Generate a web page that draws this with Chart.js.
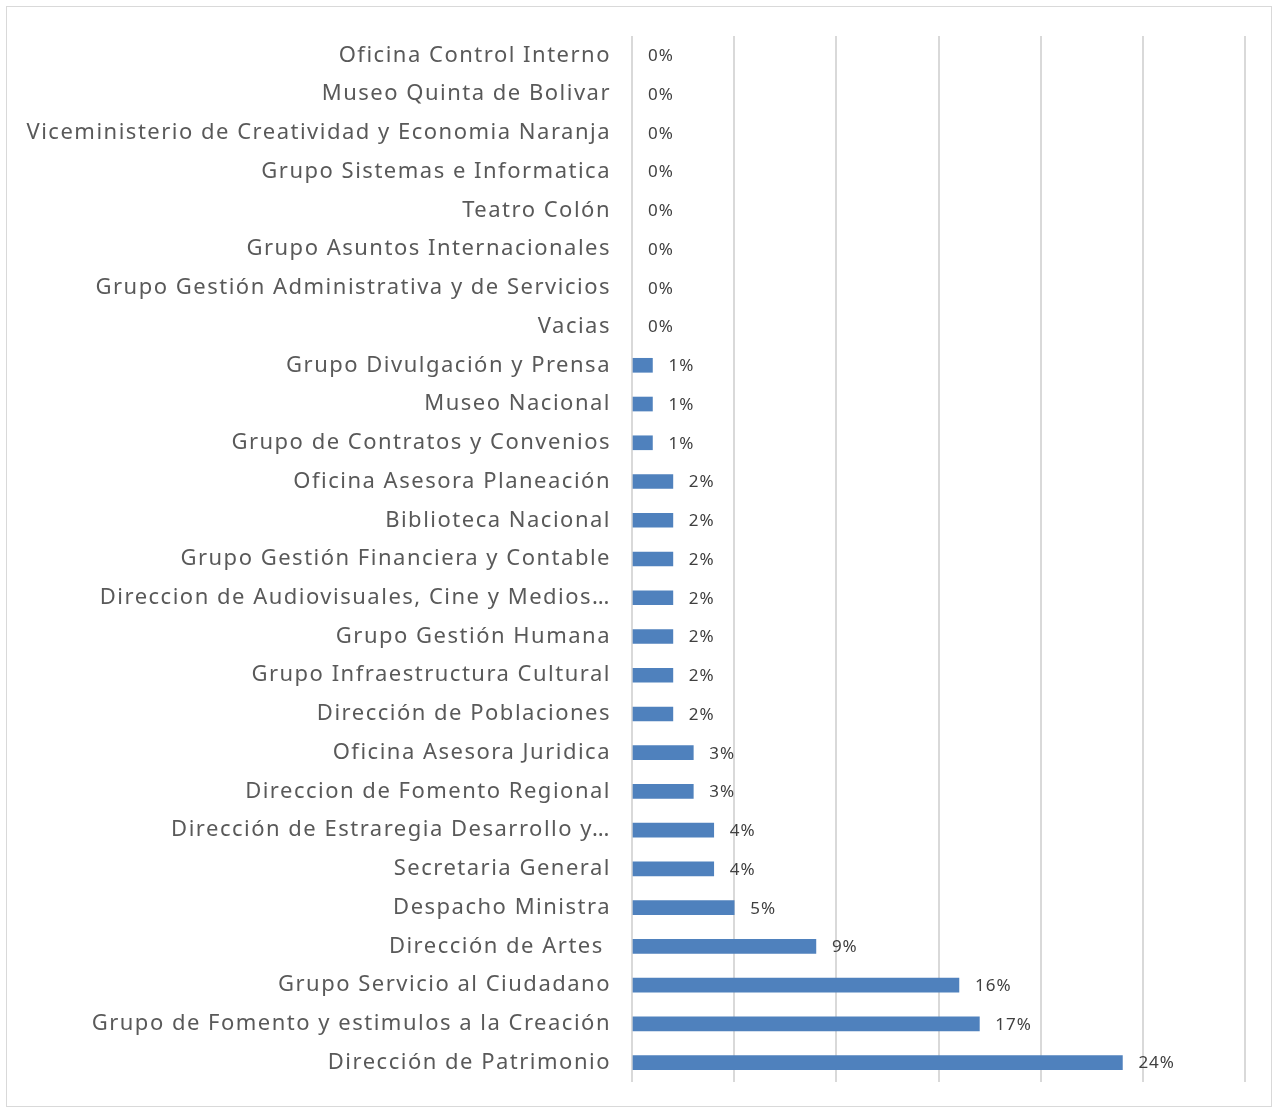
<!DOCTYPE html>
<html>
<head>
<meta charset="utf-8">
<script src="https://cdn.jsdelivr.net/npm/chart.js@4.4.1/dist/chart.umd.min.js"></script>
<style>
  html, body { margin: 0; padding: 0; background: #fff; }
  #wrap { position: relative; width: 1274px; height: 1110px; }
  #marco { position: absolute; left: 6px; top: 6px; width: 1266px; height: 1101px; border: 1px solid #d9d9d9; box-sizing: border-box; }
  canvas { position: absolute; left: 0; top: 0; }
</style>
</head>
<body>
<div id="wrap">
  <div id="marco"></div>
  <canvas id="grafico" width="1274" height="1110"></canvas>
</div>
<script>
const dependencias = [
  "Oficina Control Interno",
  "Museo Quinta de Bolivar",
  "Viceministerio de Creatividad y Economia Naranja",
  "Grupo Sistemas e Informatica",
  "Teatro Colón",
  "Grupo Asuntos Internacionales",
  "Grupo Gestión Administrativa y de Servicios",
  "Vacias",
  "Grupo Divulgación y Prensa",
  "Museo Nacional",
  "Grupo de Contratos y Convenios",
  "Oficina Asesora Planeación",
  "Biblioteca Nacional",
  "Grupo Gestión Financiera y Contable",
  "Direccion de Audiovisuales, Cine y Medios…",
  "Grupo Gestión Humana",
  "Grupo Infraestructura Cultural",
  "Dirección de Poblaciones",
  "Oficina Asesora Juridica",
  "Direccion de Fomento Regional",
  "Dirección de Estraregia Desarrollo y…",
  "Secretaria General",
  "Despacho Ministra",
  "Dirección de Artes ",
  "Grupo Servicio al Ciudadano",
  "Grupo de Fomento y estimulos a la Creación",
  "Dirección de Patrimonio"
];
const porcentajes = [0, 0, 0, 0, 0, 0, 0, 0, 1, 1, 1, 2, 2, 2, 2, 2, 2, 2, 3, 3, 4, 4, 5, 9, 16, 17, 24];
const ejeMax = 30;
const ejePaso = 5;

// espaciado de letras para parecerse a la fuente original
const espaciado = {
  id: "espaciado",
  beforeDraw(chart) {
    chart.ctx.letterSpacing = "1.5px";
  },
  afterDraw(chart) {
    chart.ctx.letterSpacing = "0px";
  }
};

const etiquetasBarras = {
  id: "etiquetasBarras",
  afterDatasetsDraw(chart) {
    const ctx = chart.ctx;
    const meta = chart.getDatasetMeta(0);
    ctx.save();
    ctx.letterSpacing = "1px";
    ctx.font = "17px 'Noto Sans'";
    ctx.fillStyle = "#404040";
    ctx.textAlign = "left";
    ctx.textBaseline = "middle";
    meta.data.forEach(function (barra, i) {
      ctx.fillText(porcentajes[i] + "%", barra.x + 16, barra.y + 1);
    });
    ctx.restore();
  }
};

const canvas = document.getElementById("grafico");
const grafico = new Chart(canvas, {
  type: "bar",
  data: {
    labels: dependencias,
    datasets: [
      {
        data: porcentajes,
        backgroundColor: function (c) {
          return c.raw > 0 ? "#4f81bd" : "rgba(0,0,0,0)";
        },
        borderWidth: 0,
        barThickness: 14
      }
    ]
  },
  options: {
    indexAxis: "y",
    responsive: false,
    animation: false,
    layout: { padding: { top: 36, bottom: 28, right: 29, left: 0 } },
    plugins: {
      legend: { display: false },
      tooltip: { enabled: false }
    },
    scales: {
      x: {
        min: 0,
        max: ejeMax,
        ticks: { display: false, stepSize: ejePaso },
        grid: { color: "#d9d9d9", lineWidth: 2, drawTicks: false },
        border: { display: false },
        afterFit(scale) {
          scale.height = 0;
        }
      },
      y: {
        grid: { display: false, drawTicks: false },
        border: { display: false },
        ticks: {
          color: "#595959",
          font: { family: "'Noto Sans'", size: 22 },
          padding: 21,
          autoSkip: false
        },
        afterFit(scale) {
          scale.width = 632;
          scale.paddingTop = 0;
          scale.paddingBottom = 0;
        }
      }
    }
  },
  plugins: [espaciado, etiquetasBarras]
});
</script>
</body>
</html>
